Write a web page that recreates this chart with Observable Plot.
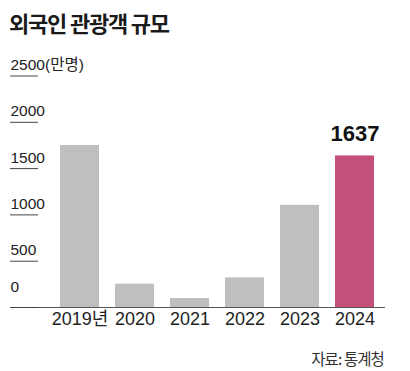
<!DOCTYPE html>
<html>
<head>
<meta charset="utf-8">
<script src="https://cdn.jsdelivr.net/npm/d3@7"></script>
<script src="https://cdn.jsdelivr.net/npm/@observablehq/plot@0.6"></script>
<style>
  html, body { margin: 0; padding: 0; background: #fff; }
  #wrap { width: 410px; height: 371px; position: relative; overflow: hidden; font-family: "Liberation Sans", "Noto Sans CJK KR", sans-serif; color: #222; }
  #title { height: 35px; padding: 10px 0 0 9px; line-height: 24px; font-size: 22px; font-weight: 700; letter-spacing: -1.2px; font-family: "Noto Sans CJK KR", sans-serif; color: #1a1a1a; }
  #chart svg { display: block; }
  #source { height: 31px; box-sizing: border-box; padding: 8px 26px 0 0; line-height: 20px; font-size: 15.5px; letter-spacing: -0.9px; text-align: right; font-family: "Noto Sans CJK KR", sans-serif; color: #333; }
</style>
</head>
<body>
<div id="wrap">
  <div id="title">외국인 관광객 규모</div>
  <div id="chart"></div>
  <div id="source">자료: 통계청</div>
</div>
<script>
const years = ["2019년", "2020", "2021", "2022", "2023", "2024"];
const visitors = [1750, 252, 97, 320, 1103, 1637];
const highlightYear = "2024";
const yTicks = [0, 500, 1000, 1500, 2000, 2500];
const yTickLabels = ["0", "500", "1000", "1500", "2000", "2500(만명)"];

const data = years.map((year, i) => ({year, value: visitors[i]}));
const grayColor = "#bfbfbf";
const pinkColor = "#c44f7b";
const labelOf = d => yTickLabels[yTicks.indexOf(d)];

const chart = Plot.plot({
  width: 410,
  height: 295,
  marginLeft: 38,
  marginRight: 25,
  marginTop: 30.5,
  marginBottom: 33,
  x: {domain: years, range: [42.4, 391.4], padding: 0.3, label: null},
  y: {domain: [0, 2500], label: null},
  style: {fontFamily: "'Liberation Sans', 'Noto Sans CJK KR', sans-serif", color: "#222", background: "white"},
  marks: [
    Plot.barY(data.filter(d => d.year !== highlightYear), {x: "year", y: "value", fill: grayColor}),
    Plot.barY(data.filter(d => d.year === highlightYear), {x: "year", y: "value", fill: pinkColor}),
    Plot.ruleY([0], {insetLeft: -28, stroke: "#555", strokeWidth: 1}),
    Plot.axisY(yTicks, {tickSize: 28, stroke: "#444", tickFormat: () => ""}),
    Plot.text(yTicks.filter(d => d !== 0), {
      y: d => d, text: labelOf,
      frameAnchor: "left", dx: -28, dy: -11, textAnchor: "start", fontSize: 15.5, fill: "#222"
    }),
    Plot.text(yTicks.filter(d => d === 0), {
      y: d => d, text: labelOf,
      frameAnchor: "left", dx: -28, dy: -20, textAnchor: "start", fontSize: 15.5, fill: "#222"
    }),
    Plot.axisX({tickSize: 0, tickPadding: 5, fontSize: 18, fill: "#222"}),
    Plot.text(data.filter(d => d.year === highlightYear), {
      x: "year", y: "value", text: d => String(d.value),
      dy: -22, fontSize: 22, fontWeight: "bold", fill: "#111"
    })
  ]
});
document.getElementById("chart").appendChild(chart);
</script>
</body>
</html>
